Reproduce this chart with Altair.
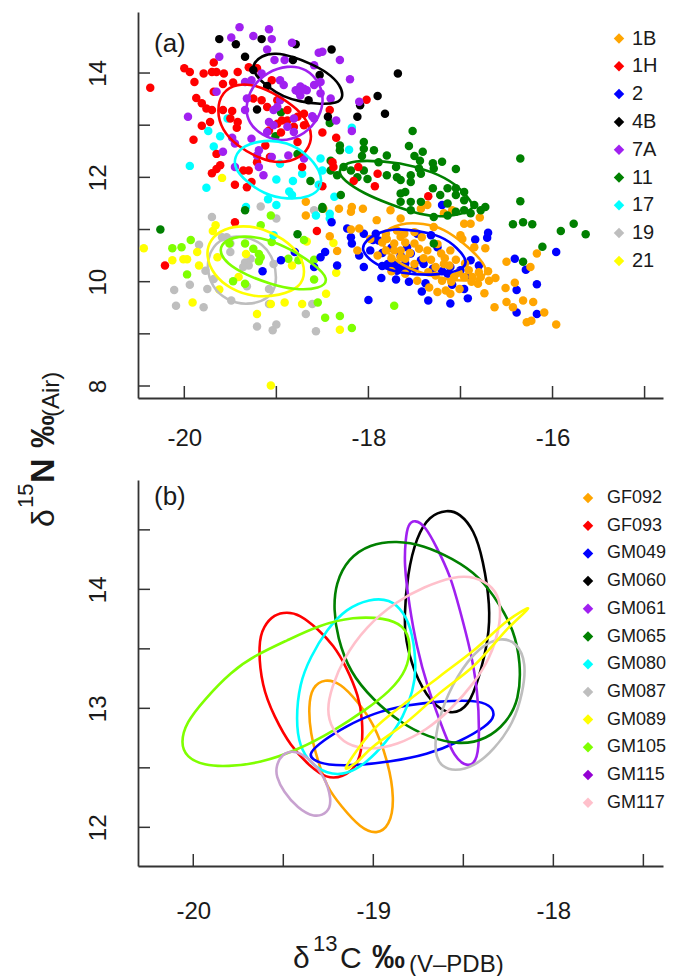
import altair as alt
import pandas as pd

FONT = "Liberation Sans"

# ---------- panel (a) scatter values (delta13C, delta15N) ----------
x_1B = [-17.36,-17.43,-17.09,-17.18,-16.79,-17.65,-16.89,-17.00,-16.96,-17.29,-17.50,-17.65,-17.61,-17.45,-17.36,-17.21,-17.11,-16.85,-16.73,-16.98,-17.27,-17.18,-17.27,-17.12,-17.50,-17.65,-17.60,-16.91,-16.78,-16.62,-16.69,-16.81,-16.74,-16.87,-16.96,-17.07,-17.20,-17.47,-17.34,-17.25,-17.16,-17.11,-17.01,-16.50,-16.17,-16.24,-16.51,-16.41,-16.50,-16.32,-16.21,-16.63,-16.43,-16.09,-16.28,-16.23,-15.96,-18.68,-18.49,-18.32,-18.18,-18.19,-18.06,-17.91,-18.10,-18.19,-18.42,-18.34,-17.81,-17.80,-17.72,-17.76,-17.98,-18.12,-17.90,-17.81,-17.72,-17.65,-17.69,-18.68,-17.85,-17.75,-17.60,-17.55,-17.50,-17.42,-17.40,-17.32,-17.25,-17.17,-17.05,-16.95,-17.10,-17.02,-17.35,-17.60,-17.75,-16.88,-16.80,-16.70]
y_1B = [11.47,11.40,11.37,11.31,11.23,11.21,11.11,10.89,11.11,11.05,10.73,10.86,10.92,10.63,10.60,10.54,10.60,10.66,10.64,10.82,10.28,10.34,10.12,10.31,10.34,10.47,10.44,10.22,10.09,10.07,10.02,9.96,9.78,10.09,10.09,10.09,10.02,10.02,9.89,9.80,9.83,9.77,9.86,10.38,10.54,10.28,9.88,9.98,9.61,9.64,9.61,9.51,9.51,9.41,9.22,9.25,9.18,11.27,11.40,11.40,11.43,11.34,11.40,11.18,11.02,11.00,10.87,10.59,10.92,10.82,10.73,11.37,10.82,10.60,10.50,10.60,10.60,10.60,10.98,11.53,10.75,10.45,10.75,10.55,10.95,10.85,10.45,10.42,10.72,10.45,10.42,10.35,10.00,10.17,10.18,10.15,10.20,10.00,10.18,10.20]
x_1H = [-20.37,-20.00,-19.94,-19.89,-19.79,-19.68,-19.70,-19.65,-19.57,-19.42,-19.58,-19.47,-19.68,-19.87,-19.81,-19.76,-19.70,-19.72,-19.81,-19.90,-19.58,-19.48,-19.50,-19.42,-19.43,-19.30,-19.21,-19.25,-19.05,-19.10,-19.16,-18.99,-18.88,-18.94,-18.99,-18.77,-18.70,-18.81,-18.88,-18.70,-18.95,-19.08,-18.50,-18.35,-18.42,-18.02,-19.12,-18.77,-19.65,-19.61,-19.65,-19.70,-19.36,-19.30,-19.45,-19.27,-19.32,-18.72,-18.39,-18.38,-18.11,-17.90,-18.16,-17.93,-18.50,-19.21,-19.07,-19.45,-18.56,-20.21,-17.35]
y_1H = [13.72,14.09,14.02,13.83,13.99,14.20,14.02,14.02,13.99,14.02,13.79,13.82,13.64,13.52,13.42,13.32,13.29,13.06,12.99,12.72,13.29,13.27,13.13,13.06,12.95,14.11,14.09,13.51,13.86,13.35,13.48,13.48,13.29,13.09,13.03,13.16,13.22,12.97,13.09,13.00,12.86,12.90,12.86,12.76,13.29,13.49,12.61,12.68,12.45,12.23,12.16,12.08,12.13,12.13,11.86,11.91,11.81,12.20,12.29,12.20,12.20,12.07,11.93,11.83,11.83,12.29,12.39,11.14,10.97,10.31,11.64]
x_2 = [-17.20,-16.70,-16.71,-16.84,-17.47,-17.58,-17.40,-17.43,-17.65,-17.58,-16.80,-16.89,-17.00,-16.94,-16.96,-17.09,-17.56,-17.38,-17.42,-17.35,-17.11,-16.92,-16.41,-15.96,-16.29,-16.39,-16.17,-16.39,-16.17,-17.14,-17.11,-17.54,-17.32,-17.25,-18.40,-18.23,-18.19,-18.18,-18.05,-17.92,-17.98,-18.47,-18.34,-18.59,-18.52,-18.80,-18.95,-19.15,-18.05,-17.86,-17.70,-18.00,-17.79,-17.72,-17.65,-17.69,-17.89,-17.85,-17.60,-17.75,-17.50,-17.30,-17.20,-17.85,-18.10,-17.95]
y_2 = [11.47,10.94,10.84,10.81,10.92,10.66,10.34,10.41,10.28,10.22,10.31,10.41,10.22,10.09,9.86,9.94,10.00,9.97,9.81,9.64,9.58,9.68,10.44,10.57,10.23,9.84,9.95,9.41,9.38,10.15,10.28,10.54,10.89,10.66,11.14,11.02,10.85,10.73,10.92,10.92,10.60,10.57,10.31,10.28,10.47,10.57,10.41,10.20,10.28,10.07,10.04,9.65,10.34,10.34,10.50,10.21,10.79,10.55,10.35,10.65,10.25,10.25,10.20,10.30,10.50,10.80]
x_4B = [-19.62,-19.44,-19.16,-19.34,-18.79,-18.40,-17.68,-17.90,-18.09,-17.82,-18.12,-18.44,-19.21,-18.82,-18.53,-19.25,-18.65,-19.10]
y_4B = [14.65,14.55,14.65,14.31,14.55,14.45,13.99,13.56,13.38,13.22,13.16,13.16,13.30,14.25,13.96,14.06,13.48,13.75]
x_7A = [-19.40,-19.08,-19.25,-19.49,-19.05,-18.83,-19.10,-19.62,-19.02,-18.91,-18.50,-18.54,-18.31,-19.16,-18.59,-18.20,-18.52,-18.96,-18.92,-18.74,-18.70,-18.76,-18.67,-18.79,-18.74,-18.59,-18.41,-18.52,-18.10,-19.65,-19.96,-19.34,-19.27,-19.32,-19.34,-18.99,-18.96,-19.03,-18.81,-18.61,-18.35,-18.18,-19.08,-19.10,-18.81,-18.88,-19.03,-19.48,-19.45,-19.27,-19.19,-19.21,-19.05,-18.87,-19.58,-19.45,-19.19,-19.14,-18.70,-18.59]
y_7A = [14.88,14.84,14.71,14.68,14.65,14.58,14.45,14.31,14.25,14.25,14.41,14.39,14.25,13.99,14.15,13.88,13.83,13.86,13.77,13.74,13.70,13.64,13.67,13.67,13.57,13.77,13.51,13.61,13.45,13.64,13.16,13.83,13.86,13.51,13.29,13.35,13.48,13.29,13.13,13.17,13.09,12.89,13.06,12.87,12.87,12.97,13.00,12.76,12.65,12.74,12.52,12.42,12.39,12.42,12.49,12.20,12.20,12.04,12.36,13.13]
x_11 = [-18.42,-18.95,-19.01,-18.77,-18.31,-18.31,-18.05,-18.05,-17.94,-18.07,-17.80,-18.41,-18.27,-18.34,-18.19,-18.05,-18.01,-17.80,-17.70,-18.63,-18.30,-18.50,-17.69,-18.41,-18.12,-17.89,-17.52,-17.56,-17.41,-17.50,-17.44,-17.45,-17.43,-17.30,-17.20,-17.29,-17.05,-17.54,-17.54,-17.65,-17.30,-17.14,-17.05,-17.60,-17.65,-17.22,-17.14,-16.96,-16.96,-17.05,-17.65,-17.54,-17.43,-16.85,-16.73,-16.78,-16.96,-16.89,-17.29,-17.14,-17.05,-17.54,-16.35,-16.35,-16.43,-16.32,-16.22,-15.91,-15.77,-15.64,-16.11,-17.29,-16.32,-20.26,-18.77,-18.50,-19.34]
y_11 = [13.04,13.25,12.79,12.45,12.61,12.52,12.68,12.55,12.52,12.41,12.42,12.32,12.20,12.04,12.13,12.13,11.97,12.04,12.20,11.93,11.66,11.43,12.00,12.13,12.00,12.29,12.89,12.60,12.49,12.41,12.32,12.17,12.07,12.27,12.30,12.17,12.16,12.04,11.91,11.95,11.79,11.79,11.79,11.72,11.69,11.66,11.50,11.72,11.56,11.66,11.53,11.53,11.53,11.47,11.43,11.37,11.37,11.31,11.24,11.27,11.34,11.37,12.36,11.54,11.10,11.14,11.10,10.97,11.11,10.91,10.67,10.73,10.38,11.00,10.91,11.40,11.37]
x_17 = [-19.74,-19.68,-19.94,-19.76,-19.53,-19.61,-18.21,-18.18,-18.52,-19.00,-18.82,-18.72,-18.54,-18.86,-18.83,-19.09,-19.00,-18.50,-18.37,-19.33,-18.96,-18.57,-18.42,-18.42,-19.03]
y_17 = [12.89,12.59,12.22,11.80,13.13,12.79,12.53,12.95,12.36,11.96,11.93,12.07,11.86,11.73,11.66,11.58,11.47,12.13,11.63,11.43,12.26,11.27,11.30,11.21,10.89]
x_19 = [-19.70,-19.17,-19.00,-18.59,-19.84,-19.50,-19.50,-19.34,-19.30,-19.36,-19.03,-19.68,-19.94,-20.11,-19.75,-19.08,-19.32,-20.09,-19.79,-19.49,-19.08,-18.61,-18.68,-19.21,-19.00,-19.04,-18.57,-19.54,-19.59,-19.28,-19.77]
y_19 = [11.24,11.44,11.21,11.37,10.71,10.73,10.57,10.37,10.31,10.28,10.34,10.05,9.94,9.84,9.86,9.86,9.91,9.54,9.51,9.64,9.57,9.57,9.38,9.14,9.18,9.07,9.05,10.85,10.85,10.44,10.21]
x_21 = [-20.44,-19.66,-19.69,-19.86,-20.13,-20.01,-19.97,-19.84,-19.64,-19.33,-18.83,-18.67,-18.38,-18.35,-18.46,-19.62,-19.41,-19.91,-19.06,-18.91,-18.72,-19.21,-18.31,-19.06,-19.59]
y_21 = [10.64,11.08,10.97,10.57,10.41,10.43,10.43,10.31,10.47,10.53,10.31,10.77,10.74,10.17,9.77,9.85,10.09,9.60,9.57,9.60,9.57,9.38,9.08,8.01,11.99]
x_lime = [-19.06,-19.93,-20.13,-20.03,-19.17,-19.51,-19.34,-19.05,-19.25,-19.19,-19.17,-19.19,-19.97,-19.47,-19.34,-18.87,-18.76,-18.70,-18.59,-18.59,-18.55,-18.47,-18.31,-18.18,-17.72]
y_lime = [11.27,10.80,10.64,10.66,11.08,10.73,10.73,10.76,10.63,10.53,10.47,10.39,10.14,10.01,9.96,10.44,10.41,10.80,10.42,10.04,9.60,9.31,9.34,9.11,9.54]

# ---------- panel (a) ellipse outlines ----------
ax_black = [-19.27,-19.16,-19.01,-18.81,-18.63,-18.45,-18.30,-18.27,-18.34,-18.52,-18.74,-18.92,-19.10,-19.23]
ay_black = [14.15,14.34,14.39,14.31,14.18,14.02,13.77,13.53,13.42,13.40,13.45,13.54,13.74,13.96]
ax_purple = [-19.34,-19.27,-19.10,-18.88,-18.67,-18.52,-18.48,-18.56,-18.74,-18.96,-19.16,-19.30]
ay_purple = [13.35,13.74,14.02,14.15,14.09,13.80,13.42,13.06,12.77,12.68,12.81,13.03]
ax_red = [-19.65,-19.59,-19.43,-19.21,-18.99,-18.77,-18.63,-18.61,-18.74,-18.96,-19.19,-19.43,-19.59]
ay_red = [13.29,13.64,13.80,13.77,13.58,13.32,13.00,12.65,12.36,12.26,12.36,12.61,12.90]
ax_cyan = [-19.46,-19.36,-19.14,-18.88,-18.67,-18.52,-18.50,-18.63,-18.88,-19.14,-19.34,-19.45]
ay_cyan = [12.39,12.61,12.72,12.68,12.45,12.13,11.81,11.62,11.57,11.68,11.94,12.16]
ax_green = [-18.34,-18.23,-18.05,-17.65,-17.29,-17.05,-16.87,-16.85,-17.14,-17.43,-17.79,-18.05,-18.27]
ay_green = [12.13,12.29,12.33,12.29,12.10,11.88,11.52,11.37,11.23,11.27,11.50,11.69,11.94]
ax_orange = [-17.87,-17.65,-17.40,-17.18,-16.96,-16.78,-16.67,-16.94,-17.32,-17.65,-17.84]
ay_orange = [10.94,11.13,11.12,11.02,10.73,10.44,10.12,9.98,10.10,10.31,10.63]
ax_blue = [-18.09,-18.03,-17.90,-17.73,-17.47,-17.21,-17.03,-16.91,-17.00,-17.25,-17.65,-17.92]
ay_blue = [10.60,10.79,10.94,11.02,10.98,10.88,10.65,10.37,10.21,10.12,10.15,10.31]
ax_gray = [-19.76,-19.72,-19.59,-19.36,-19.14,-19.02,-18.99,-19.07,-19.32,-19.54,-19.70]
ay_gray = [10.28,10.60,10.85,10.89,10.73,10.41,9.96,9.67,9.54,9.64,9.89]
ax_yellow = [-19.77,-19.72,-19.57,-19.36,-19.14,-18.92,-18.74,-18.68,-18.74,-18.96,-19.25,-19.50,-19.68]
ay_yellow = [10.50,10.82,11.02,11.08,11.02,10.82,10.53,10.18,9.89,9.73,9.70,9.86,10.12]
ax_lime = [-19.63,-19.56,-19.36,-19.10,-18.85,-18.59,-18.42,-18.52,-18.81,-19.07,-19.32,-19.54]
ay_lime = [10.60,10.80,10.89,10.82,10.63,10.34,10.05,9.86,9.84,9.96,10.12,10.34]

# ---------- panel (b) ellipse outlines ----------
bx_GF092 = [-19.36,-19.34,-19.27,-19.18,-19.09,-19.00,-18.92,-18.88,-18.91,-18.98,-19.07,-19.18,-19.26,-19.31,-19.35]
by_GF092 = [13.02,13.18,13.25,13.21,13.06,12.88,12.57,12.23,12.01,11.94,11.99,12.18,12.34,12.57,12.79]
bx_GF093 = [-19.64,-19.61,-19.55,-19.48,-19.41,-19.31,-19.22,-19.15,-19.08,-19.06,-19.06,-19.09,-19.17,-19.26,-19.35,-19.46,-19.55,-19.62]
by_GF093 = [13.55,13.69,13.79,13.81,13.79,13.67,13.53,13.35,13.10,12.90,12.68,12.51,12.42,12.41,12.51,12.68,12.93,13.18]
bx_GM049 = [-19.36,-19.28,-19.15,-19.00,-18.81,-18.63,-18.44,-18.35,-18.32,-18.37,-18.52,-18.70,-18.91,-19.09,-19.26,-19.34]
by_GM049 = [12.62,12.73,12.85,12.96,13.03,13.06,13.07,13.03,12.94,12.85,12.72,12.61,12.55,12.52,12.52,12.57]
bx_GM060 = [-18.83,-18.81,-18.76,-18.69,-18.59,-18.52,-18.44,-18.39,-18.35,-18.36,-18.41,-18.47,-18.57,-18.68,-18.78,-18.82]
by_GM060 = [13.74,14.14,14.44,14.62,14.67,14.64,14.50,14.25,13.86,13.58,13.27,13.01,12.94,13.04,13.32,13.58]
bx_GM061 = [-18.82,-18.81,-18.77,-18.71,-18.65,-18.57,-18.52,-18.46,-18.42,-18.41,-18.42,-18.47,-18.55,-18.62,-18.70,-18.76,-18.80,-18.83]
by_GM061 = [14.42,14.54,14.59,14.53,14.36,14.11,13.83,13.49,13.15,12.79,12.57,12.50,12.58,12.85,13.18,13.52,13.86,14.22]
bx_GM065 = [-19.22,-19.21,-19.14,-19.02,-18.87,-18.72,-18.56,-18.41,-18.30,-18.22,-18.18,-18.19,-18.26,-18.37,-18.52,-18.70,-18.85,-19.00,-19.13,-19.20]
by_GM065 = [13.83,14.05,14.26,14.38,14.41,14.37,14.26,14.11,13.88,13.66,13.38,13.07,12.88,12.74,12.69,12.76,12.88,13.07,13.30,13.60]
bx_GM080 = [-19.43,-19.41,-19.35,-19.26,-19.15,-19.02,-18.91,-18.83,-18.78,-18.76,-18.78,-18.83,-18.93,-19.04,-19.15,-19.26,-19.35,-19.41]
by_GM080 = [12.90,13.21,13.43,13.66,13.84,13.92,13.92,13.81,13.63,13.32,13.15,12.93,12.71,12.54,12.44,12.45,12.54,12.68]
bx_GM087 = [-18.66,-18.63,-18.54,-18.41,-18.29,-18.20,-18.15,-18.17,-18.22,-18.33,-18.44,-18.55,-18.62,-18.65]
by_GM087 = [12.71,12.96,13.27,13.52,13.60,13.55,13.38,13.13,12.88,12.65,12.51,12.47,12.51,12.59]
bx_GM089 = [-19.15,-19.00,-18.81,-18.63,-18.44,-18.26,-18.14,-18.26,-18.44,-18.63,-18.81,-19.00,-19.09]
by_GM089 = [12.51,12.82,13.06,13.27,13.49,13.73,13.84,13.66,13.36,13.13,12.89,12.68,12.55]
bx_GM105 = [-20.07,-20.04,-19.94,-19.79,-19.65,-19.48,-19.30,-19.11,-18.94,-18.83,-18.79,-18.81,-18.91,-19.04,-19.22,-19.42,-19.63,-19.81,-19.94,-20.04]
by_GM105 = [12.71,12.88,13.07,13.31,13.45,13.57,13.70,13.77,13.76,13.70,13.55,13.32,13.14,12.99,12.81,12.65,12.54,12.51,12.52,12.59]
bx_GM115 = [-19.54,-19.51,-19.43,-19.35,-19.27,-19.23,-19.25,-19.33,-19.42,-19.50,-19.54]
by_GM115 = [12.51,12.62,12.65,12.57,12.43,12.23,12.12,12.08,12.16,12.30,12.43]
bx_GM117 = [-19.26,-19.23,-19.17,-19.04,-18.87,-18.72,-18.55,-18.44,-18.33,-18.29,-18.30,-18.35,-18.44,-18.57,-18.70,-18.87,-19.02,-19.15,-19.23]
by_GM117 = [12.99,13.18,13.41,13.69,13.90,14.02,14.11,14.11,14.02,13.88,13.66,13.43,13.21,12.99,12.82,12.69,12.65,12.69,12.82]

# ---------- names, colours, ticks ----------
a_names = ["1B", "1H", "2", "4B", "7A", "11", "17", "19", "21", "other"]
a_colors = ["#FFA500", "#FF0000", "#0000FF", "#000000", "#A020F0", "#008000", "#00FFFF", "#BEBEBE", "#FFFF00", "#7FFF00"]
b_names = ["GF092", "GF093", "GM049", "GM060", "GM061", "GM065", "GM080", "GM087", "GM089", "GM105", "GM115", "GM117"]
b_legend_colors = ["#FFA500", "#FF0000", "#0000FF", "#000000", "#A020F0", "#008000", "#00FFFF", "#BEBEBE", "#FFFF00", "#7FFF00", "#9400D3", "#FFC0CB"]
b_line_colors = ["#FFA500", "#FF0000", "#0000FF", "#000000", "#A020F0", "#008000", "#00FFFF", "#BEBEBE", "#FFFF00", "#7FFF00", "#C8A2D0", "#FFC0CB"]

a_xticks = [-20, -19, -18, -17, -16, -15]
a_yticks = [8, 9, 10, 11, 12, 13, 14]
a_xlabels = [-20, -18, -16]
a_ylabels = [8, 10, 12, 14]
b_xticks = [-20, -19.5, -19, -18.5, -18, -17.5]
b_yticks = [12, 12.5, 13, 13.5, 14, 14.5]
b_xlabels = [-20, -19, -18]
b_ylabels = [12, 13, 14]

a_xdom = [-20.503, -14.80]
a_ydom = [7.77, 15.17]
b_xdom = [-20.307, -17.391]
b_ydom = [11.675, 14.919]
W, H = 525, 386
AXC = "#333333"
TXT = "#1a1a1a"

# ---------- tables ----------
scatter_order = [("19", x_19, y_19), ("21", x_21, y_21), ("other", x_lime, y_lime), ("17", x_17, y_17),
                 ("2", x_2, y_2), ("1B", x_1B, y_1B), ("11", x_11, y_11), ("1H", x_1H, y_1H),
                 ("4B", x_4B, y_4B), ("7A", x_7A, y_7A)]
rows = []
for g, xs, ys in scatter_order:
    rows += [{"g": g, "x": a, "y": b} for a, b in zip(xs, ys)]
scatter = pd.DataFrame(rows)

def outlines(items):
    out = []
    for g, xs, ys in items:
        out += [{"g": g, "i": i, "x": a, "y": b} for i, (a, b) in enumerate(zip(xs, ys))]
    return pd.DataFrame(out)

a_lines = outlines([("1B", ax_orange, ay_orange), ("1H", ax_red, ay_red), ("2", ax_blue, ay_blue),
                    ("4B", ax_black, ay_black), ("7A", ax_purple, ay_purple), ("11", ax_green, ay_green),
                    ("17", ax_cyan, ay_cyan), ("19", ax_gray, ay_gray), ("21", ax_yellow, ay_yellow),
                    ("other", ax_lime, ay_lime)])
b_lines = outlines([("GF092", bx_GF092, by_GF092), ("GF093", bx_GF093, by_GF093), ("GM049", bx_GM049, by_GM049),
                    ("GM060", bx_GM060, by_GM060), ("GM061", bx_GM061, by_GM061), ("GM065", bx_GM065, by_GM065),
                    ("GM080", bx_GM080, by_GM080), ("GM087", bx_GM087, by_GM087), ("GM105", bx_GM105, by_GM105),
                    ("GM115", bx_GM115, by_GM115), ("GM117", bx_GM117, by_GM117)])
b_thin = outlines([("GM089", bx_GM089, by_GM089)])


def xax(vals, pad):
    return alt.Axis(values=vals, title=None, grid=False, ticks=False, labelFontSize=24, labelFont=FONT,
                    labelColor=TXT, labelPadding=pad, labelExpr="'' + datum.value", domainColor=AXC, domainWidth=1.8,
                    labelOverlap=False, labelFlush=False)


def yax(vals, pad):
    return alt.Axis(values=vals, title=None, grid=False, ticks=False, labelFontSize=24, labelFont=FONT,
                    labelColor=TXT, labelPadding=pad, labelAngle=270, labelExpr="'' + datum.value", domainColor=AXC,
                    domainWidth=1.8, labelOverlap=False, labelFlush=False)


def ticks(xvals, yvals, xs, ys):
    xt = alt.Chart(pd.DataFrame({"v": xvals})).mark_rule(color=AXC, strokeWidth=1.5).encode(
        x=alt.X("v:Q", scale=xs), y=alt.value(H), y2=alt.value(H - 12))
    yt = alt.Chart(pd.DataFrame({"v": yvals})).mark_rule(color=AXC, strokeWidth=1.5).encode(
        y=alt.Y("v:Q", scale=ys), x=alt.value(0), x2=alt.value(12))
    return xt + yt


def label(text, x, y, size, weight="normal", angle=0):
    return alt.Chart(pd.DataFrame({"t": [text]})).mark_text(
        font=FONT, fontSize=size, fontWeight=weight, angle=angle, align="left", baseline="alphabetic", color=TXT
    ).encode(text="t:N", x=alt.value(x), y=alt.value(y))


# ---------- panel a ----------
a_xs = alt.Scale(domain=a_xdom, nice=False, zero=False)
a_ys = alt.Scale(domain=a_ydom, nice=False, zero=False)
a_pts = alt.Chart(scatter).mark_circle(size=72, opacity=1).encode(
    x=alt.X("x:Q", scale=a_xs, axis=xax(a_xlabels, 28)),
    y=alt.Y("y:Q", scale=a_ys, axis=yax(a_ylabels, 28)),
    color=alt.Color("g:N", scale=alt.Scale(domain=a_names, range=a_colors),
                    legend=alt.Legend(values=a_names[:9], title=None, orient="none", legendX=471, legendY=16.5, padding=0,
                                      symbolType="diamond", symbolSize=110, symbolStrokeWidth=0, labelFontSize=20,
                                      labelFont=FONT, labelColor=TXT, rowPadding=7.8, labelOffset=3)),
)
a_ell = alt.Chart(a_lines).mark_line(strokeWidth=2.6, interpolate="basis-closed").encode(
    x=alt.X("x:Q", scale=a_xs), y=alt.Y("y:Q", scale=a_ys),
    stroke=alt.Stroke("g:N", scale=alt.Scale(domain=a_names, range=a_colors), legend=None),
    order=alt.Order("i:Q"),
)
panel_a = alt.layer(a_pts, a_ell, ticks(a_xticks, a_yticks, a_xs, a_ys), label("(a)", 16, 40, 26)).properties(width=W, height=H)

# ---------- panel b ----------
b_xs = alt.Scale(domain=b_xdom, nice=False, zero=False)
b_ys = alt.Scale(domain=b_ydom, nice=False, zero=False)
b_leg = alt.Chart(alt.Data(values=[])).mark_point(filled=True, opacity=1).encode(
    x=alt.X("x:Q", scale=b_xs, axis=xax(b_xlabels, 33)),
    y=alt.Y("y:Q", scale=b_ys, axis=yax(b_ylabels, 28)),
    color=alt.Color("g:N", scale=alt.Scale(domain=b_names, range=b_legend_colors),
                    legend=alt.Legend(title=None, orient="none", legendX=441, legendY=9, padding=0,
                                      symbolType="diamond", symbolSize=110, symbolStrokeWidth=0, labelFontSize=18,
                                      labelFont=FONT, labelColor=TXT, rowPadding=9.7, labelOffset=10)),
)
b_ell = alt.Chart(b_lines).mark_line(strokeWidth=2.6, interpolate="basis-closed").encode(
    x=alt.X("x:Q", scale=b_xs), y=alt.Y("y:Q", scale=b_ys),
    stroke=alt.Stroke("g:N", scale=alt.Scale(domain=b_names, range=b_line_colors), legend=None),
    order=alt.Order("i:Q"),
)
b_yel = alt.Chart(b_thin).mark_line(strokeWidth=2.6, interpolate="cardinal-closed", color="#FFFF00").encode(
    x=alt.X("x:Q", scale=b_xs), y=alt.Y("y:Q", scale=b_ys), order=alt.Order("i:Q"),
)
titles = [
    label("(b)", 16, 25, 26),
    label("δ", -84, 47, 32, angle=270),
    label("15", -105, 28, 22, angle=270),
    label("N", -84, 3, 34, "bold", angle=270),
    label("‰", -84, -32, 33, "bold", angle=270),
    label("(Air)", -79, -63, 24, angle=270),
    label("δ", 155, 488, 30),
    label("13", 175, 471, 22),
    label("C", 202, 488, 30),
    label("‰", 234, 488, 33, "bold"),
    label("(V–PDB)", 271, 492, 24),
]
panel_b = alt.layer(b_leg, b_ell, b_yel, ticks(b_xticks, b_yticks, b_xs, b_ys), *titles).properties(width=W, height=H)

chart = alt.vconcat(panel_a, panel_b, spacing=82, bounds="flush").resolve_scale(
    color="independent", stroke="independent"
).properties(
    padding={"left": 7, "top": 4, "right": 0, "bottom": 0}
).configure_view(stroke=None)

chart.save("out.html", embed_options={"renderer": "svg", "actions": False})
